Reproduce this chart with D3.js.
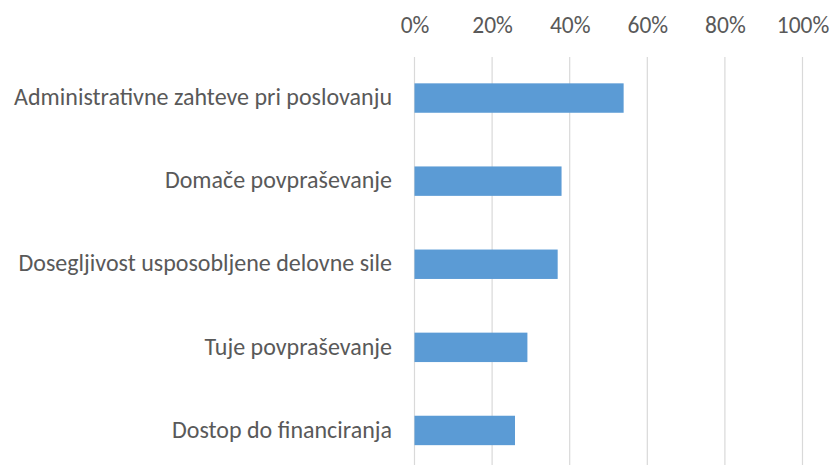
<!DOCTYPE html>
<html>
<head>
  <meta charset="utf-8">
  <title>Ovire pri poslovanju</title>
  <script src="https://d3js.org/d3.v7.min.js"></script>
  <style>
    body { margin: 0; background: #fff; }
    svg { display: block; }
    text { font-family: Calibri, Carlito, "Open Sans", sans-serif; fill: #595959; }
  </style>
</head>
<body>
  <svg id="grafikon"></svg>

  <script>
    const kategorije = [
      "Administrativne zahteve pri poslovanju",
      "Domače povpraševanje",
      "Dosegljivost usposobljene delovne sile",
      "Tuje povpraševanje",
      "Dostop do financiranja"
    ];
    const vrednosti = [0.539, 0.379, 0.369, 0.291, 0.259];
    const oznake = [0, 0.2, 0.4, 0.6, 0.8, 1];

    const sirina = 831, visina = 465;

    const svg = d3.select("#grafikon")
      .attr("width", sirina)
      .attr("height", visina);

    const x = d3.scaleLinear().domain([0, 1]).range([414.5, 802.5]);
    const y = d3.scaleBand()
      .domain(kategorije)
      .range([56.5, 472])
      .paddingInner(0.646)
      .paddingOuter(0.323);

    // mreza
    svg.selectAll(".mreza")
      .data(oznake)
      .enter()
      .append("line")
      .attr("class", "mreza")
      .attr("x1", d => x(d))
      .attr("x2", d => x(d))
      .attr("y1", 57)
      .attr("y2", visina)
      .style("stroke", "#d9d9d9")
      .style("stroke-width", 1.2);

    // os zgoraj
    const os = svg.append("g")
      .attr("transform", "translate(0,33)")
      .call(d3.axisTop(x).tickValues(oznake).tickFormat(d3.format(".0%")).tickSize(0).tickPadding(0));
    os.select(".domain").remove();
    os.selectAll("text")
      .style("font-size", "23.5px")
      .attr("fill", "#595959");

    // stolpci
    svg.selectAll(".stolpec")
      .data(vrednosti)
      .enter()
      .append("rect")
      .attr("class", "stolpec")
      .attr("x", x(0))
      .attr("y", (d, i) => y(kategorije[i]))
      .attr("width", d => x(d) - x(0))
      .attr("height", y.bandwidth())
      .style("fill", "#5b9bd5");

    // oznake kategorij
    svg.selectAll(".kategorija")
      .data(kategorije)
      .enter()
      .append("text")
      .attr("class", "kategorija")
      .attr("x", 392)
      .attr("y", d => y(d) + y.bandwidth() / 2)
      .attr("dy", "0.3em")
      .attr("text-anchor", "end")
      .style("font-size", "24px")
      .text(d => d);
  </script>
</body>
</html>
